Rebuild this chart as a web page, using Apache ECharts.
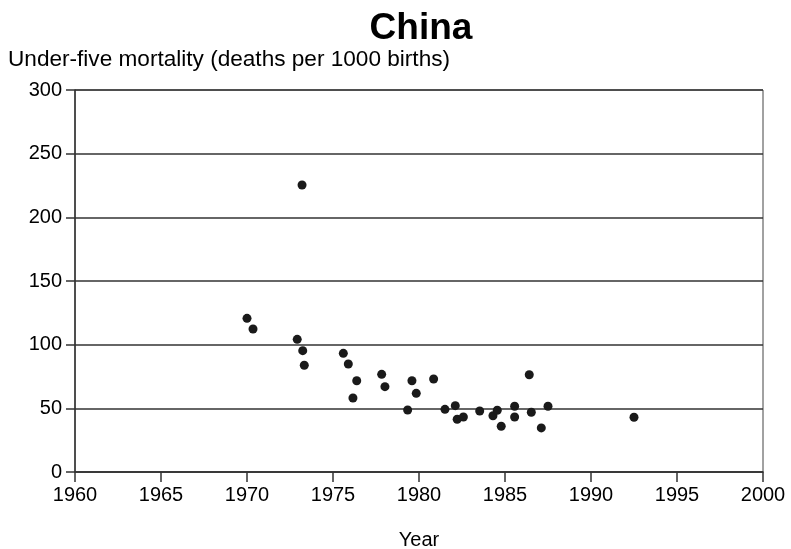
<!DOCTYPE html>
<html>
<head>
<meta charset="utf-8">
<script src="https://cdn.jsdelivr.net/npm/echarts@6/dist/echarts.min.js"></script>
<style>
  html, body { margin: 0; padding: 0; background: #fff; }
  #chart { width: 791px; height: 549px; }
</style>
</head>
<body>
<div id="chart"></div>
<script>
// Survey estimates of under-five mortality in China
const years = [
  1970.0, 1970.35, 1973.2, 1972.92, 1973.24, 1973.33, 1975.6, 1975.89,
  1976.16, 1976.38, 1977.83, 1978.02, 1979.34, 1979.59, 1979.84, 1980.85,
  1981.51, 1982.11, 1982.22, 1982.58, 1983.53, 1984.3, 1984.55, 1984.78,
  1985.56, 1985.56, 1986.41, 1986.53, 1987.11, 1987.5, 1992.5
];
const mortality = [
  120.7, 112.3, 225.4, 104.2, 95.3, 83.8, 93.2, 84.8,
  58.1, 71.7, 76.7, 67.0, 48.7, 71.7, 61.8, 73.0,
  49.2, 52.1, 41.4, 43.2, 47.9, 44.2, 48.5, 35.9,
  51.6, 43.2, 76.4, 46.9, 34.6, 51.6, 43.0
];
const titleText = 'China';
const yAxisTitle = 'Under-five mortality (deaths per 1000 births)';
const xAxisTitle = 'Year';

const points = years.map((y, i) => [y, mortality[i]]);
const font = 'Liberation Sans, Arial, sans-serif';

const chart = echarts.init(document.getElementById('chart'), null, { renderer: 'canvas' });
chart.setOption({
  animation: false,
  backgroundColor: '#ffffff',
  title: {
    text: titleText,
    left: 416, top: 5, textAlign: 'center',
    textStyle: { fontFamily: font, fontSize: 37, fontWeight: 'bold', color: '#000' }
  },
  graphic: [{
    type: 'text', left: 8, top: 48,
    style: { text: yAxisTitle, font: '22.6px ' + font, fill: '#000' }
  }],
  grid: {
    left: 75, right: 28, top: 90, bottom: 77,
    containLabel: false, outerBoundsMode: 'none',
    show: true, borderColor: '#444', borderWidth: 1, backgroundColor: 'transparent'
  },
  xAxis: {
    type: 'value', min: 1960, max: 2000, interval: 5,
    name: xAxisTitle, nameLocation: 'middle', nameGap: 58,
    nameTextStyle: { fontFamily: font, fontSize: 20, color: '#000' },
    axisLine: { show: true, lineStyle: { color: '#333', width: 1.5 } },
    axisTick: { show: true, length: 10, lineStyle: { color: '#333', width: 1.5 } },
    axisLabel: { fontFamily: font, fontSize: 20, color: '#000', margin: 13,
                 formatter: v => String(v) },
    splitLine: { show: false }
  },
  yAxis: {
    type: 'value', min: 0, max: 300, interval: 50,
    axisLine: { show: true, lineStyle: { color: '#333', width: 1.5 } },
    axisTick: { show: true, length: 9, lineStyle: { color: '#333', width: 1.5 } },
    axisLabel: { fontFamily: font, fontSize: 20, color: '#000', margin: 13 },
    splitLine: { show: true, lineStyle: { color: '#333', width: 1.5 } }
  },
  series: [{
    type: 'scatter',
    data: points,
    symbol: 'circle',
    symbolSize: 9,
    itemStyle: { color: '#1a1a1a', opacity: 1 }
  }]
});
</script>
</body>
</html>
